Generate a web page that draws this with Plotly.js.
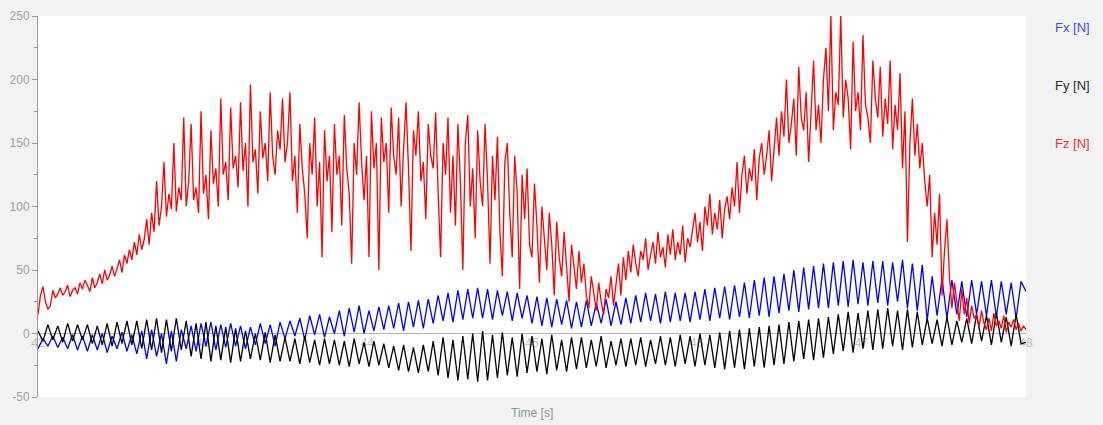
<!DOCTYPE html>
<html>
<head>
<meta charset="utf-8">
<script src="https://cdn.plot.ly/plotly-3.0.1.min.js"></script>
<style>html,body{margin:0;padding:0;background:#f2f2f2;}#chart{width:1103px;height:425px;}</style>
</head>
<body>
<div id="chart"></div>
<script>
// Sample clocks (s)
const T0 = 42.0;
const DT_XY = 0.03;   // Fx, Fy samples
const DT_Z = 0.015;   // Fz samples

// Fx [N] (blue)
const fx = [
  -12, -4, -10, -2, -11, -3, -12, -1, -13, -2,
  -14, -1, -13, 0, -15, -2, -12, 1, -14, -1,
  -16, 2, -20, 3, -18, 0, -24, 2, -22, 3,
  -12, 6, -14, 8, -10, 9, -13, 7, -11, 8,
  -10, 6, -12, 5, -9, 8, -8, 7, -10, 9,
  -4, 10, -2, 12, -5, 14, -1, 15, -3, 13,
  0, 18, -2, 20, 1, 22, 0, 18, 2, 21,
  3, 22, 4, 24, 2, 25, 5, 26, 4, 27,
  8, 30, 10, 32, 9, 34, 11, 35, 12, 36,
  12, 35, 11, 34, 14, 33, 10, 32, 12, 30,
  8, 29, 6, 28, 5, 27, 7, 26, 4, 25,
  5, 26, 6, 24, 8, 27, 6, 25, 7, 28,
  8, 30, 9, 32, 10, 31, 8, 33, 9, 32,
  10, 32, 9, 33, 11, 35, 10, 36, 12, 37,
  11, 38, 13, 40, 12, 42, 14, 44, 13, 45,
  16, 47, 18, 50, 17, 52, 19, 53, 20, 55,
  20, 56, 22, 57, 21, 58, 23, 56, 22, 57,
  24, 57, 22, 56, 25, 58, 20, 55, 18, 54,
  10, 45, 14, 43, 12, 42, 15, 41, 13, 42,
  15, 41, 14, 42, 13, 41, 15, 40, 12, 41,
  33
];

// Fy [N] (black)
const fy = [
  2, -6, 7, -5, 6, -7, 8, -6, 7, -5,
  7, -8, 6, -9, 8, -10, 9, -8, 10, -9,
  10, -12, 11, -13, 12, -15, 11, -14, 12, -13,
  10, -18, 8, -20, 9, -22, 6, -21, 5, -23,
  4, -22, 2, -20, 0, -21, 1, -23, -1, -22,
  -3, -22, -4, -24, -2, -23, -5, -25, -4, -24,
  -5, -25, -6, -26, -4, -24, -7, -26, -6, -25,
  -8, -27, -10, -29, -9, -30, -11, -31, -9, -30,
  -6, -33, -3, -35, -5, -37, -2, -36, 0, -38,
  2, -37, -1, -35, 1, -33, -3, -34, 0, -31,
  -2, -30, -4, -32, -1, -29, -5, -30, -3, -28,
  -3, -27, -5, -26, -2, -27, -6, -25, -4, -26,
  -4, -25, -3, -26, -5, -24, -2, -25, -3, -26,
  -1, -24, -2, -26, 0, -25, -1, -27, 1, -28,
  2, -27, 3, -28, 4, -26, 5, -27, 6, -25,
  7, -24, 9, -22, 10, -20, 11, -21, 12, -19,
  13, -16, 15, -14, 17, -15, 16, -12, 18, -13,
  19, -12, 20, -10, 18, -13, 19, -11, 17, -9,
  12, -8, 11, -10, 13, -9, 10, -7, 12, -8,
  15, -6, 14, -9, 16, -7, 13, -10, 15, -8,
  -7
];

// Fz [N] (red)
const fz = [
  15, 30, 37, 25, 19, 22, 34, 28, 31, 36, 30, 33, 38, 29, 34, 36, 31, 40, 35, 42,
  38, 33, 44, 36, 40, 47, 39, 50, 42, 46, 53, 45, 51, 58, 48, 62, 55, 66, 58, 72,
  62, 78, 66, 74, 90, 70, 95, 80, 120, 85, 100, 135, 92, 110, 98, 150, 96, 115, 105, 170,
  100, 120, 165, 105, 115, 95, 175, 110, 125, 90, 160, 118, 130, 100, 185, 125, 135, 105, 178, 130,
  140, 115, 182, 128, 150, 100, 196, 135, 145, 110, 175, 138, 150, 120, 190, 140, 125, 160, 145, 185,
  135, 150, 190, 120, 140, 95, 165, 130, 110, 75, 150, 125, 170, 100, 135, 60, 160, 120, 140, 80,
  165, 125, 140, 85, 172, 130, 110, 55, 150, 125, 182, 135, 105, 140, 60, 175, 130, 150, 50, 170,
  135, 150, 95, 178, 140, 125, 170, 100, 145, 182, 130, 65, 160, 140, 175, 120, 135, 90, 165, 140,
  130, 174, 110, 60, 150, 125, 170, 95, 140, 85, 165, 120, 50, 150, 172, 100, 130, 75, 160, 120,
  100, 165, 120, 55, 140, 105, 155, 80, 45, 135, 150, 95, 60, 140, 110, 35, 125, 90, 130, 70,
  60, 118, 85, 40, 100, 75, 50, 95, 70, 30, 88, 60, 45, 80, 55, 25, 70, 50, 35, 65,
  40, 55, 30, 20, 45, 32, 18, 40, 25, 15, 35, 28, 45, 22, 38, 55, 30, 60, 42, 65,
  48, 70, 55, 45, 65, 58, 75, 50, 62, 72, 55, 80, 60, 68, 52, 78, 62, 82, 58, 72,
  62, 85, 56, 75, 68, 80, 95, 72, 88, 65, 100, 85, 110, 78, 95, 82, 105, 75, 98, 108,
  90, 115, 100, 135, 95, 125, 140, 110, 130, 120, 145, 105, 138, 150, 125, 140, 160, 120, 145, 170,
  140, 175, 155, 200, 150, 165, 185, 140, 210, 170, 160, 190, 135, 175, 215, 160, 180, 150, 200, 225,
  175, 250, 160, 190, 180, 250, 170, 200, 185, 145, 230, 175, 190, 160, 235, 180, 170, 150, 215, 185,
  170, 210, 155, 185, 165, 215, 145, 180, 160, 205, 130, 175, 72, 150, 185, 140, 165, 130, 150, 120,
  100, 125, 60, 95, 70, 110, 30, 65, 90, 45, 20, 40, 25, 10, 35, 15, 28, 8, 22, 12,
  15, 5, 18, 8, 3, 12, 2, 16, 6, 10, 4, 14, 1, 9, 5, 11, 3, 8, 2, 6,
  3
];

const seriesNames = ['Fx [N]', 'Fy [N]', 'Fz [N]'];
const lineColors = ['#0000ff', '#000000', '#ff0000'];
const labelColors = ['#4646ff', '#2a2a2a', '#ff2a2a'];
const yTicks = [-50, 0, 50, 100, 150, 200, 250];
const yTickText = ['-50', '0', '50', '100', '150', '200', '250'];
const xTicks = [42, 43, 44, 45, 46, 47, 48];
const xTickText = ['42', '43', '44', '45', '46', '47', '48'];

const timeXY = fx.map((_, i) => +(T0 + i * DT_XY).toFixed(3));
const timeZ = fz.map((_, i) => +(T0 + i * DT_Z).toFixed(3));

const seriesValues = [fx, fy, fz];
const seriesTimes = [timeXY, timeXY, timeZ];

const traces = seriesValues.map((vals, k) => ({
  x: seriesTimes[k], y: vals, type: 'scatter', mode: 'lines', name: seriesNames[k],
  line: {color: lineColors[k], width: 1.3}, showlegend: false, hoverinfo: 'skip'
}));

const annotations = seriesNames.map((n, k) => ({
  text: n, xref: 'paper', yref: 'paper', x: 1.067, y: [0.97, 0.818, 0.666][k],
  xanchor: 'right', yanchor: 'middle', showarrow: false,
  font: {family: 'Liberation Sans, Arial, sans-serif', size: 13, color: labelColors[k]}
}));
annotations.push({
  text: 'Time [s]', xref: 'paper', yref: 'paper', x: 0.5, y: -0.018,
  xanchor: 'center', yanchor: 'top', showarrow: false,
  font: {family: 'Liberation Sans, Arial, sans-serif', size: 12, color: '#8a94a6'}
});

const layout = {
  width: 1103, height: 425,
  margin: {l: 38, r: 77, t: 16, b: 28, pad: 0},
  paper_bgcolor: '#f2f2f2', plot_bgcolor: '#ffffff',
  font: {family: 'Liberation Sans, Arial, sans-serif'},
  xaxis: {
    range: [42, 48], anchor: 'free', position: 1/6,
    tickmode: 'array', tickvals: xTicks, ticktext: xTickText,
    showgrid: false, zeroline: false, showline: false, ticks: '',
    tickfont: {size: 12, color: '#bdbdbd'}, layer: 'below traces', fixedrange: true
  },
  yaxis: {
    range: [-50, 250], tickmode: 'array', tickvals: yTicks, ticktext: yTickText,
    showgrid: false, zeroline: true, zerolinecolor: '#b4b4b4', zerolinewidth: 1.5,
    showline: true, linecolor: '#9a9a9a', linewidth: 1,
    ticks: 'outside', ticklen: 5, tickcolor: '#9a9a9a', tickwidth: 1,
    minor: {tickvals: [-25, 25, 75, 125, 175, 225], ticks: 'outside', ticklen: 3, tickcolor: '#9a9a9a'},
    tickfont: {size: 12, color: '#a4a0a0'}, fixedrange: true
  },
  annotations: annotations,
  showlegend: false
};

Plotly.newPlot('chart', traces, layout, {displayModeBar: false, staticPlot: true});
</script>
</body>
</html>
